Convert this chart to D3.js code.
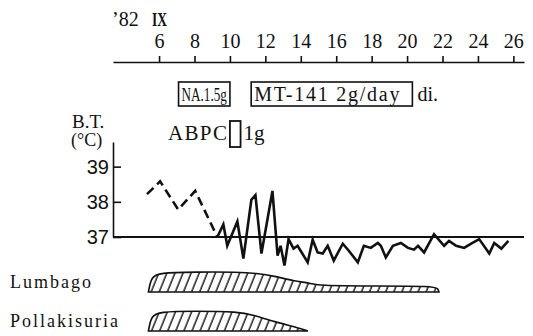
<!DOCTYPE html>
<html>
<head>
<meta charset="utf-8">
<script src="https://cdn.jsdelivr.net/npm/d3@7"></script>
<style>
  body { margin: 0; background: #fff; }
  svg { display: block; }
  .tick line, .domain { stroke: #111; stroke-width: 1.6; }
</style>
</head>
<body>
<div id="chart"></div>
<script>
const width = 533;
const height = 336;
const SERIF = "'Liberation Serif', 'DejaVu Serif', 'Times New Roman', Times, serif";

// day of month (Sept. 1982)
const dayTicks = [6, 8, 10, 12, 14, 16, 18, 20, 22, 24, 26];
const tempTicks = [37, 38, 39];

// drug courses, in days
const drugNames = ['NA.1.5g', 'MT-141 2g/day'];
const drugStart = [7.1, 11.2];
const drugEnd = [10.0, 20.3];
const abpcStart = 10.0;
const abpcEnd = 10.6;

// body temperature, first part dashed
const feverDays = [5.32, 6.06, 7.08, 8.04, 9.29];
const feverTemps = [38.22, 38.58, 37.78, 38.31, 37.0];

const tempDays = [9.29, 9.63, 9.85, 10.42, 10.76, 11.21, 11.44, 11.78, 12.4, 12.69,
  12.86, 13.08, 13.31, 13.59, 13.82, 13.99, 14.39, 14.67, 14.95, 15.24, 15.52, 15.86,
  16.37, 16.71, 17.22, 17.56, 17.95, 18.35, 18.52, 18.8, 19.2, 19.65, 20.05, 20.39,
  20.62, 20.96, 21.52, 22.09, 22.37, 22.77, 23.22, 23.62, 24.07, 24.64, 24.92, 25.32, 25.72];
const tempValues = [37.0, 37.36, 36.75, 37.44, 36.39, 38.06, 38.19, 36.53, 38.31, 36.47,
  36.75, 36.19, 36.94, 36.67, 36.75, 36.61, 36.28, 36.92, 36.56, 36.53, 36.75, 36.33,
  36.81, 36.61, 36.28, 36.75, 36.69, 36.83, 36.75, 36.42, 36.75, 36.83, 36.69, 36.64,
  36.75, 36.56, 37.08, 36.75, 36.89, 36.75, 36.69, 36.81, 36.94, 36.53, 36.83, 36.67, 36.89];

// symptoms, level 0..3
const symptomNames = ['Lumbago', 'Pollakisuria'];
const lumbagoDays = [5.4, 5.55, 6.0, 8.0, 10.5, 11.5, 12.5, 13.6, 14.5, 15.0, 18.0, 21.5, 21.75, 21.8];
const lumbagoLevel = [0, 2.2, 2.9, 3.0, 3.0, 2.8, 2.4, 1.65, 1.35, 0.95, 0.9, 0.9, 0.5, 0];
const pollakisuriaDays = [5.4, 5.55, 6.0, 8.0, 10.5, 11.3, 12.5, 13.9, 14.4];
const pollakisuriaLevel = [0, 2.2, 2.9, 3.0, 2.9, 2.4, 1.4, 0.45, 0];

const svg = d3.select('#chart').append('svg')
  .attr('width', width)
  .attr('height', height)
  .attr('font-family', SERIF);

const x = d3.scaleLinear().domain([3.4, 26.6]).range([113, 524]);
const y = d3.scaleLinear().domain([37, 39.7]).range([237, 142]);
const row = d3.scalePoint().domain(symptomNames).range([292, 331]);
const level = d3.scaleLinear().domain([0, 3]).range([0, 20]);

function label(xp, yp, size, str) {
  return svg.append('text')
    .attr('x', xp).attr('y', yp)
    .attr('font-size', size)
    .attr('font-family', SERIF)
    .attr('fill', '#111')
    .text(str);
}

// top date axis
const topAxis = d3.axisTop(x)
  .tickValues(dayTicks)
  .tickSize(6)
  .tickSizeOuter(0)
  .tickPadding(8);

svg.append('g')
  .attr('transform', 'translate(0, 62)')
  .call(topAxis)
  .attr('font-family', SERIF)
  .call(g => g.selectAll('text').attr('font-size', 20).attr('fill', '#111'));

label(112, 26, 20, '\u201982');
label(152, 26, 19, 'IX').attr('font-weight', 'bold')
  .attr('textLength', 15).attr('lengthAdjust', 'spacingAndGlyphs');

// drug boxes
drugNames.forEach((name, i) => {
  const x0 = x(drugStart[i]);
  const x1 = x(drugEnd[i]);
  svg.append('rect')
    .attr('x', x0).attr('y', 82)
    .attr('width', x1 - x0).attr('height', 24)
    .attr('fill', 'none').attr('stroke', '#111').attr('stroke-width', 1.6);
  label(x0 + 3, 101, i == 0 ? 19 : 20, name)
    .attr('textLength', x1 - x0 - (i == 0 ? 6 : 16))
    .attr('lengthAdjust', i == 0 ? 'spacingAndGlyphs' : 'spacing');
});
label(x(drugEnd[1]) + 5, 101, 20, 'di.');

// ABPC
svg.append('rect')
  .attr('x', x(abpcStart)).attr('y', 121)
  .attr('width', x(abpcEnd) - x(abpcStart)).attr('height', 26)
  .attr('fill', 'none').attr('stroke', '#111').attr('stroke-width', 1.8);
label(x(abpcStart) - 3, 140, 21, 'ABPC')
  .attr('text-anchor', 'end').attr('textLength', 59).attr('lengthAdjust', 'spacing');
label(x(abpcEnd) + 3, 140, 21, '1g');

// temperature axis
const leftAxis = d3.axisLeft(y)
  .tickValues(tempTicks)
  .tickFormat(d3.format('d'))
  .tickSize(-8)
  .tickSizeOuter(0)
  .tickPadding(4);

svg.append('g')
  .attr('transform', 'translate(113, 0)')
  .call(leftAxis)
  .attr('font-family', "'Liberation Sans Narrow', 'Liberation Sans', sans-serif")
  .call(g => g.selectAll('text').attr('font-size', 20).attr('fill', '#111'));

label(72, 128, 19, 'B.T.');
label(71, 146, 18, '(\u00B0C)');

// 37 baseline
svg.append('line')
  .attr('x1', x(3.4)).attr('x2', x(26.6))
  .attr('y1', y(37)).attr('y2', y(37))
  .attr('stroke', '#111').attr('stroke-width', 1.8);

const line = d3.line()
  .x(d => x(d[0]))
  .y(d => y(d[1]));

svg.append('path')
  .attr('d', line(d3.zip(feverDays, feverTemps)))
  .attr('fill', 'none').attr('stroke', '#111')
  .attr('stroke-width', 2.6).attr('stroke-dasharray', '9 5');

svg.append('path')
  .attr('d', line(d3.zip(tempDays, tempValues)))
  .attr('fill', 'none').attr('stroke', '#111')
  .attr('stroke-width', 2.6).attr('stroke-linejoin', 'miter');

// symptom bars with hatching
const pattern = svg.append('defs').append('pattern')
  .attr('id', 'hatch')
  .attr('patternUnits', 'userSpaceOnUse')
  .attr('width', 7.5).attr('height', 10)
  .attr('patternTransform', 'rotate(22)');
pattern.append('line')
  .attr('x1', 2).attr('x2', 2).attr('y1', 0).attr('y2', 10)
  .attr('stroke', '#111').attr('stroke-width', 1.4);

const symptomData = [
  d3.zip(lumbagoDays, lumbagoLevel),
  d3.zip(pollakisuriaDays, pollakisuriaLevel)
];

symptomNames.forEach((name, i) => {
  const base = row(name);
  const area = d3.area()
    .x(d => x(d[0]))
    .y0(base)
    .y1(d => base - level(d[1]))
    .curve(d3.curveBasis);
  svg.append('path')
    .attr('d', area(symptomData[i]))
    .attr('fill', 'url(#hatch)')
    .attr('stroke', '#111').attr('stroke-width', 1.6);
  label(10, base - 4, 18, name).attr('letter-spacing', 2);
});
</script>
</body>
</html>
